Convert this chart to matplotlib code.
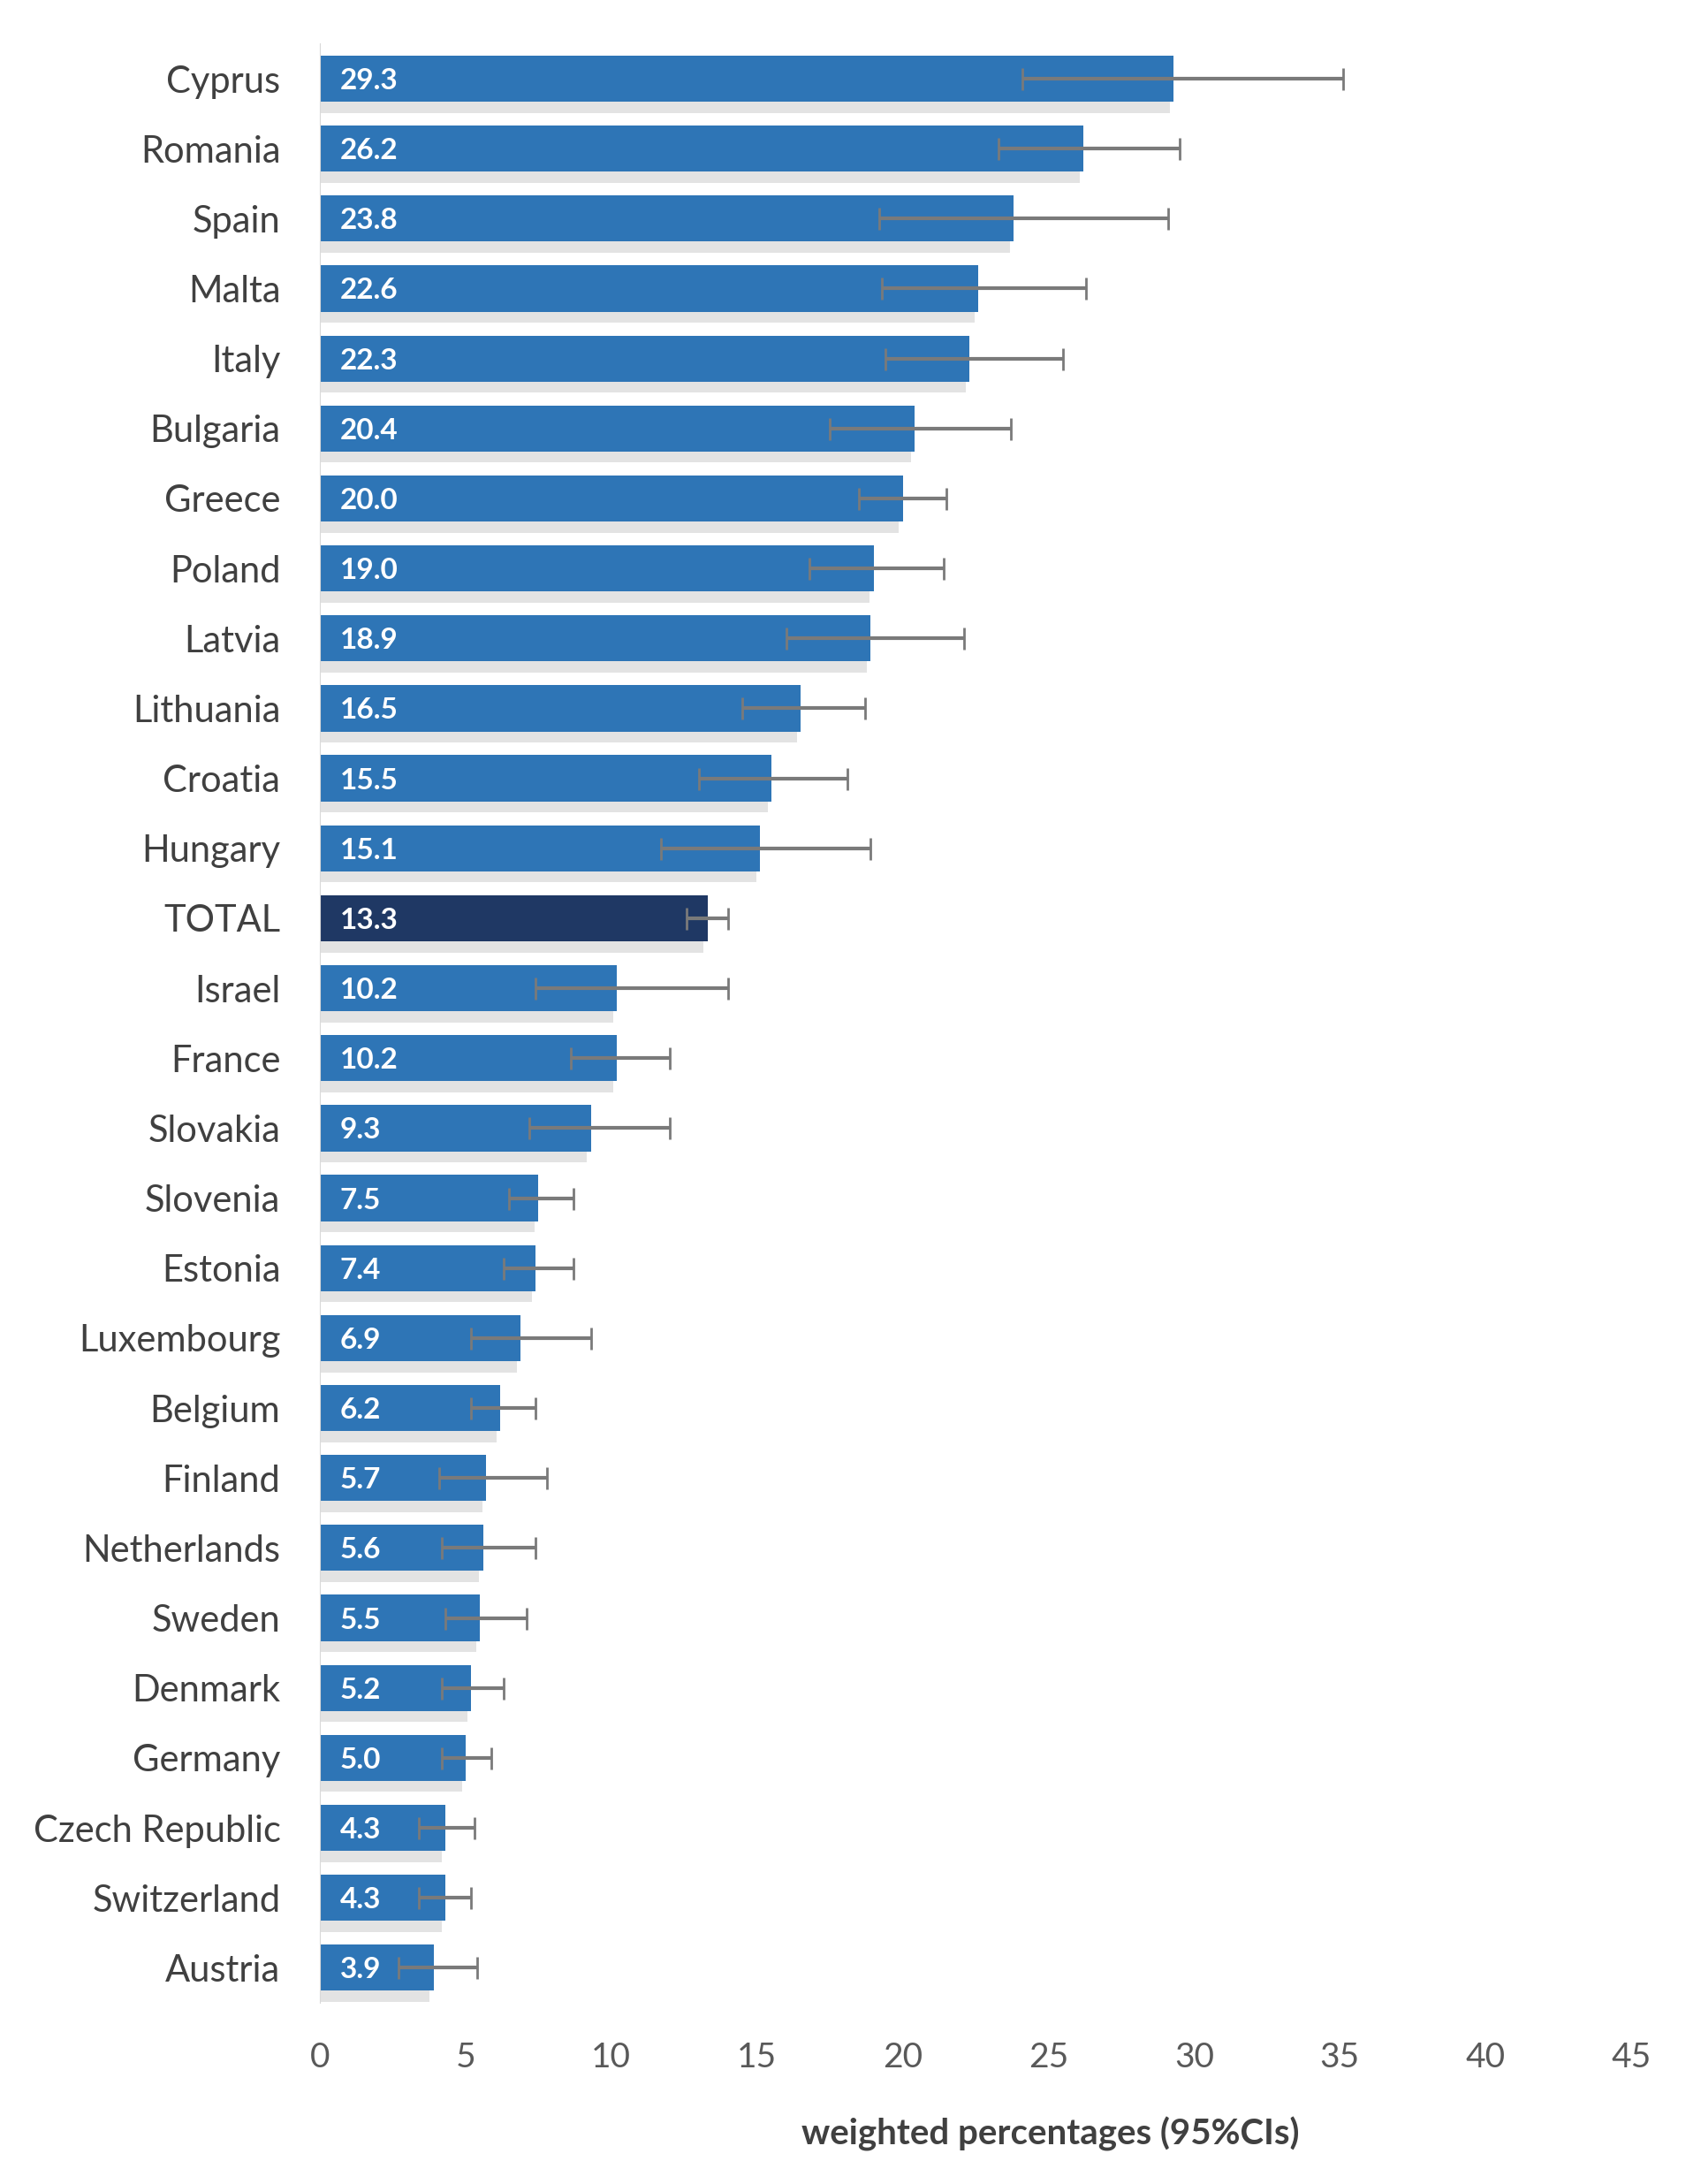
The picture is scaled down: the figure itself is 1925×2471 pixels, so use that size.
import numpy as np
import matplotlib.pyplot as plt
import matplotlib.patheffects as pe

countries = ["Cyprus", "Romania", "Spain", "Malta", "Italy", "Bulgaria", "Greece",
             "Poland", "Latvia", "Lithuania", "Croatia", "Hungary", "TOTAL", "Israel",
             "France", "Slovakia", "Slovenia", "Estonia", "Luxembourg", "Belgium",
             "Finland", "Netherlands", "Sweden", "Denmark", "Germany", "Czech Republic",
             "Switzerland", "Austria"]
values = [29.3, 26.2, 23.8, 22.6, 22.3, 20.4, 20.0, 19.0, 18.9, 16.5, 15.5, 15.1, 13.3,
          10.2, 10.2, 9.3, 7.5, 7.4, 6.9, 6.2, 5.7, 5.6, 5.5, 5.2, 5.0, 4.3, 4.3, 3.9]
ci_low = [24.1, 23.3, 19.2, 19.3, 19.4, 17.5, 18.5, 16.8, 16.0, 14.5, 13.0, 11.7, 12.6,
          7.4, 8.6, 7.2, 6.5, 6.3, 5.2, 5.2, 4.1, 4.2, 4.3, 4.2, 4.2, 3.4, 3.4, 2.7]
ci_high = [35.1, 29.5, 29.1, 26.3, 25.5, 23.7, 21.5, 21.4, 22.1, 18.7, 18.1, 18.9, 14.0,
           14.0, 12.0, 12.0, 8.7, 8.7, 9.3, 7.4, 7.8, 7.4, 7.1, 6.3, 5.9, 5.3, 5.2, 5.4]
ticks = [0, 5, 10, 15, 20, 25, 30, 35, 40, 45]

plt.rcParams['font.family'] = ['Lato', 'DejaVu Sans']

fig = plt.figure(figsize=(19.25, 24.71), dpi=100)
ax = fig.add_axes([0.188, 0.083, 0.771, 0.897])

y = np.arange(len(countries))
vals = np.array(values)
colors = ["#1f3864" if c == "TOTAL" else "#2e75b6" for c in countries]

bars = ax.barh(y, vals, height=0.66, color=colors, zorder=2)
# soft grey drop shadow under each bar
for b in bars:
    b.set_path_effects([pe.SimplePatchShadow(offset=(-3, -9), shadow_rgbFace="#b0b0b0", alpha=0.35),
                        pe.Normal()])

err = [vals - np.array(ci_low), np.array(ci_high) - vals]
ax.errorbar(vals, y, xerr=err, fmt="none", ecolor="#7a7a7a", elinewidth=3,
            capsize=9, capthick=2, zorder=3)

for i, v in enumerate(values):
    ax.text(0.7, i, f"{v:.1f}", color="white", fontsize=24, fontweight="bold",
            va="center_baseline", ha="left", zorder=4)

ax.set_yticks(y)
ax.set_yticklabels(countries, fontsize=30, color="#404040")
ax.set_ylim(len(countries) - 0.5, -0.5)
ax.set_xlim(0, 45)
ax.set_xticks(ticks)
ax.set_xticklabels([str(t) for t in ticks], fontsize=28, color="#595959")
ax.tick_params(axis="x", length=0, pad=32)
ax.tick_params(axis="y", length=0, pad=32)
for s in ["top", "right", "bottom"]:
    ax.spines[s].set_visible(False)
ax.spines["left"].set_color("#d9d9d9")

ax.set_xlabel("weighted percentages (95%CIs)", fontsize=29, fontweight="bold", color="#404040")
ax.xaxis.set_label_coords(0.557, -0.058)

fig.savefig("out.png", dpi=100, facecolor="white")
